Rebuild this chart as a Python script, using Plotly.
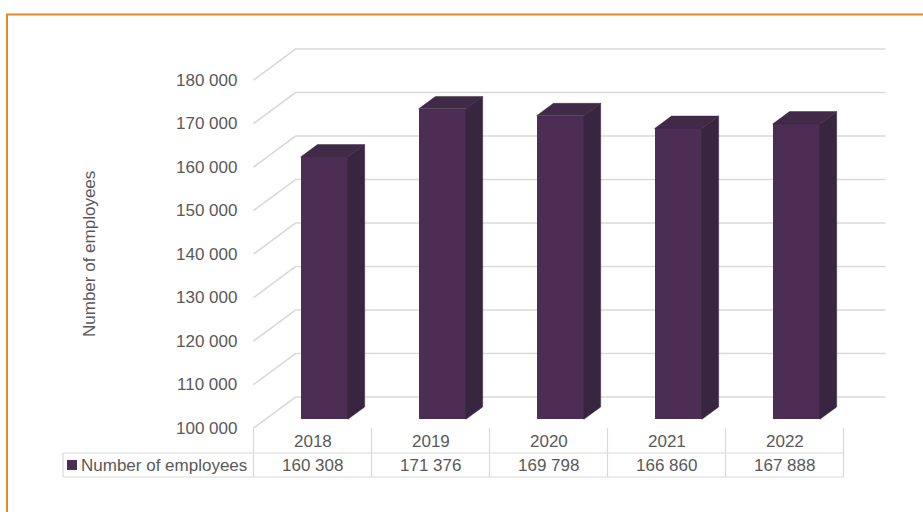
import plotly.graph_objects as go

# ---- data -------------------------------------------------------------
years = ["2018", "2019", "2020", "2021", "2022"]
employees = [160308, 171376, 169798, 166860, 167888]
tick_values = [100000, 110000, 120000, 130000, 140000, 150000, 160000, 170000, 180000]
tick_labels = ["100 000", "110 000", "120 000", "130 000", "140 000",
               "150 000", "160 000", "170 000", "180 000"]
series_name = "Number of employees"
value_labels = ["160 308", "171 376", "169 798", "166 860", "167 888"]

# ---- page geometry ----------------------------------------------------
FIG_W, FIG_H = 923, 512
M_L, M_R, M_T, M_B = 40, 23, 30, 22
PLOT_W = FIG_W - M_L - M_R
PLOT_H = FIG_H - M_T - M_B

CAT_PX = 118.0          # pixels per category slot
CAT0_PX = 312.5         # pixel x of the first category centre (floor front edge)
BASE = 100000           # axis minimum
BASE_PX = 428.0         # pixel y of BASE on the floor front edge
PX_PER_UNIT = 43.5 / 10000

x_range = [(M_L - CAT0_PX) / CAT_PX, (M_L + PLOT_W - CAT0_PX) / CAT_PX]
y_range = [BASE - (M_T + PLOT_H - BASE_PX) / PX_PER_UNIT,
           BASE + (BASE_PX - M_T) / PX_PER_UNIT]


def dx(px):
    return px / CAT_PX


def dy(px):
    return px / PX_PER_UNIT


def xpx(px):
    return (px - CAT0_PX) / CAT_PX


# oblique depth of the whole floor and of the bars
FLOOR_DX, FLOOR_DY = dx(42), dy(31)
T_FRONT, T_DEPTH = 0.28, 0.40
BAR_W = 0.40

FRONT = "#4C2E54"
SIDE = "#382540"
TOP = "#402A47"
GRID = "#D9D9D9"
TEXT = "#595959"
FONT = "Liberation Sans, Arial, sans-serif"

n = len(years)
xs = list(range(n))

fig = go.Figure()

# front faces of the bars
off_x = T_FRONT * FLOOR_DX
off_y = T_FRONT * FLOOR_DY
fig.add_trace(go.Bar(
    x=[i + off_x for i in xs],
    y=[v - BASE for v in employees],
    base=[BASE + off_y] * n,
    width=BAR_W,
    marker=dict(color=FRONT, line=dict(width=0)),
    hoverinfo="skip",
    showlegend=False,
))

# side and top faces of the bars
bdx = T_DEPTH * FLOOR_DX
bdy = T_DEPTH * FLOOR_DY
side_x, side_y, top_x, top_y = [], [], [], []
for i, v in zip(xs, employees):
    xl = i + off_x - BAR_W / 2
    xr = i + off_x + BAR_W / 2
    y0 = BASE + off_y
    y1 = v + off_y
    side_x += [xr, xr, xr + bdx, xr + bdx, xr, None]
    side_y += [y0, y1, y1 + bdy, y0 + bdy, y0, None]
    top_x += [xl, xr, xr + bdx, xl + bdx, xl, None]
    top_y += [y1, y1, y1 + bdy, y1 + bdy, y1, None]

fig.add_trace(go.Scatter(x=side_x, y=side_y, mode="lines", fill="toself",
                         fillcolor=SIDE, line=dict(color=SIDE, width=0.5),
                         hoverinfo="skip", showlegend=False))
fig.add_trace(go.Scatter(x=top_x, y=top_y, mode="lines", fill="toself",
                         fillcolor=TOP, line=dict(color=TOP, width=0.5),
                         hoverinfo="skip", showlegend=False))

shapes = []
annotations = []

# gridlines: left wall diagonal + back wall horizontal
x_left = -0.5
x_right = n - 0.5
for v, lab in zip(tick_values, tick_labels):
    path = (f"M {x_left},{v} L {x_left + FLOOR_DX},{v + FLOOR_DY} "
            f"L {x_right + FLOOR_DX},{v + FLOOR_DY}")
    shapes.append(dict(type="path", path=path, xref="x", yref="y",
                       line=dict(color=GRID, width=1.6), layer="below"))
    annotations.append(dict(x=x_left - dx(15), y=v, xref="x", yref="y",
                            text=lab, showarrow=False, xanchor="right",
                            yanchor="middle",
                            font=dict(family=FONT, size=17, color=TEXT)))

# data table below the chart
row1 = BASE - dy(25)
row2 = BASE - dy(49)
table_left = xpx(63)
for k in range(n + 1):
    shapes.append(dict(type="line", xref="x", yref="y",
                       x0=x_left + k, x1=x_left + k, y0=BASE, y1=row2,
                       line=dict(color=GRID, width=1.2), layer="below"))
for yy in (row1, row2):
    shapes.append(dict(type="line", xref="x", yref="y",
                       x0=table_left, x1=x_right, y0=yy, y1=yy,
                       line=dict(color=GRID, width=1.2), layer="below"))
shapes.append(dict(type="line", xref="x", yref="y",
                   x0=table_left, x1=table_left, y0=row1, y1=row2,
                   line=dict(color=GRID, width=1.2), layer="below"))

# legend key in the table
shapes.append(dict(type="rect", xref="x", yref="y",
                   x0=xpx(67), x1=xpx(77), y0=BASE - dy(32), y1=BASE - dy(42),
                   fillcolor=FRONT, line=dict(width=0)))
annotations.append(dict(x=xpx(79), y=(row1 + row2) / 2, xref="x", yref="y",
                        text=series_name, showarrow=False, xanchor="left",
                        yanchor="middle",
                        font=dict(family=FONT, size=17, color=TEXT)))

for i, yr, lab in zip(xs, years, value_labels):
    annotations.append(dict(x=i, y=BASE - dy(13), xref="x", yref="y",
                            text=yr, showarrow=False, yanchor="middle",
                            font=dict(family=FONT, size=17, color=TEXT)))
    annotations.append(dict(x=i, y=(row1 + row2) / 2, xref="x", yref="y",
                            text=lab, showarrow=False, yanchor="middle",
                            font=dict(family=FONT, size=17, color=TEXT)))

# vertical axis title
annotations.append(dict(x=(90 - M_L) / PLOT_W, y=(FIG_H - M_B - 254) / PLOT_H,
                        xref="paper", yref="paper", text=series_name,
                        textangle=-90, showarrow=False,
                        xanchor="center", yanchor="middle",
                        font=dict(family=FONT, size=17, color=TEXT)))

# orange frame around the chart area
shapes.append(dict(type="rect", xref="paper", yref="paper",
                   x0=(7 - M_L) / PLOT_W, x1=1.2,
                   y0=-0.2, y1=(FIG_H - M_B - 14.5) / PLOT_H,
                   line=dict(color="#E08A2B", width=2), layer="above"))

fig.update_layout(
    width=FIG_W, height=FIG_H,
    margin=dict(l=M_L, r=M_R, t=M_T, b=M_B),
    paper_bgcolor="white", plot_bgcolor="white",
    xaxis=dict(range=x_range, visible=False, fixedrange=True),
    yaxis=dict(range=y_range, visible=False, fixedrange=True),
    shapes=shapes, annotations=annotations,
    bargap=0, showlegend=False,
)

fig.write_html("out.html")
